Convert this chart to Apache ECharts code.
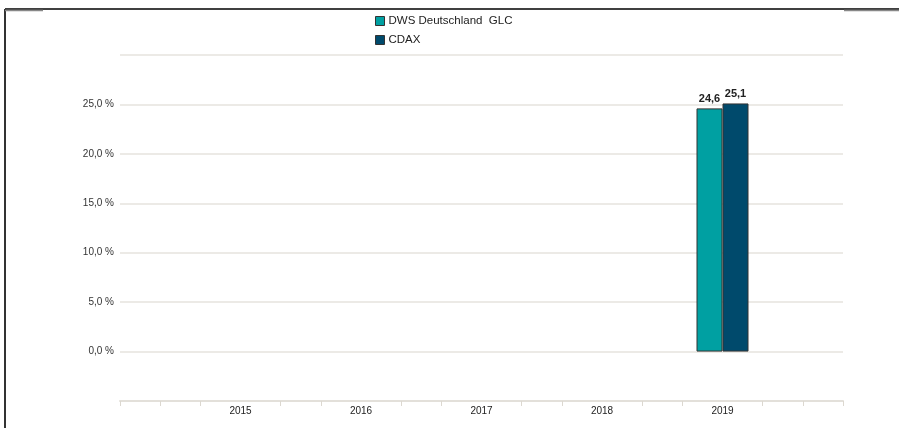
<!DOCTYPE html>
<html>
<head>
<meta charset="utf-8">
<script src="https://cdn.jsdelivr.net/npm/echarts@6/dist/echarts.min.js"></script>
<style>
  html, body { margin: 0; padding: 0; background: #fff; }
  #divChart { width: 899px; height: 428px; }
</style>
</head>
<body>
<div id="divChart"></div>
<script>
// Kategorien (leere Plätze links und rechts wie im Original)
var categories = ['', '2015', '2016', '2017', '2018', '2019', ''];
var seriesNames = ['DWS Deutschland  GLC', 'CDAX'];
var fundValues = [null, null, null, null, null, 24.6, null];
var indexValues = [null, null, null, null, null, 25.1, null];
var yTicks = [0, 5, 10, 15, 20, 25];

function fmtPct(v) {
    return v.toFixed(1).replace('.', ',') + ' %';
}

var myChart = echarts.init(document.getElementById('divChart'));

var option = {
    animation: false,
    color: ['#00a0a2', '#004a6c'],
    textStyle: { fontFamily: 'Liberation Sans, Arial, sans-serif' },
    legend: {
        orient: 'vertical',
        left: 370,
        top: 10,
        itemWidth: 9,
        itemHeight: 9,
        itemGap: 7,
        icon: 'rect',
        textStyle: { fontSize: 11.5, color: '#222', padding: [0, 0, 0, -1] },
        itemStyle: { borderColor: '#333', borderWidth: 1 },
        data: seriesNames
    },
    grid: { left: 120, right: 56, top: 55, bottom: 27 },
    xAxis: [{
        type: 'category',
        data: categories,
        boundaryGap: false,
        axisLine: { onZero: false, lineStyle: { color: '#e3e0da', width: 2 } },
        axisTick: {
            show: true,
            length: 5,
            interval: function (i) { return i === 0 || i === categories.length - 1; },
            lineStyle: { color: '#dcd8d0', width: 1 }
        },
        axisLabel: { color: '#222', fontSize: 10, margin: 5 },
        splitLine: { show: false }
    }, {
        // nur fuer die Zwischenstriche
        type: 'value',
        position: 'bottom',
        min: 0,
        max: 6,
        interval: 1,
        axisLine: { show: false, onZero: false },
        axisTick: { show: false },
        axisLabel: { show: false },
        splitLine: { show: false },
        minorTick: { show: true, splitNumber: 3, length: 5, lineStyle: { color: '#dcd8d0', width: 1 } },
        minorSplitLine: { show: false }
    }],
    yAxis: {
        type: 'value',
        min: -5,
        max: 30,
        interval: 5,
        axisLine: { show: false },
        axisTick: { show: false },
        axisLabel: {
            color: '#333',
            fontSize: 10,
            margin: 6,
            formatter: function (v) {
                return yTicks.indexOf(v) >= 0 ? fmtPct(v) : '';
            }
        },
        splitLine: { lineStyle: { color: '#e6e3de', width: 1.5 } }
    },
    series: [{
        name: seriesNames[0],
        type: 'bar',
        xAxisIndex: 0,
        barWidth: 26,
        barGap: '0%',
        data: fundValues,
        itemStyle: { borderColor: '#333', borderWidth: 1 },
        label: {
            show: true, position: 'top', distance: 4, color: '#222', fontSize: 11, fontWeight: 'bold',
            formatter: function (p) { return p.value.toFixed(1).replace('.', ','); }
        }
    }, {
        name: seriesNames[1],
        type: 'bar',
        xAxisIndex: 0,
        barWidth: 26,
        barGap: '0%',
        data: indexValues,
        itemStyle: { borderColor: '#333', borderWidth: 1 },
        label: {
            show: true, position: 'top', distance: 4, color: '#222', fontSize: 11, fontWeight: 'bold',
            formatter: function (p) { return p.value.toFixed(1).replace('.', ','); }
        }
    }],
    graphic: [
        { type: 'line', shape: { x1: 5, y1: 9, x2: 899, y2: 9 }, style: { stroke: '#000', lineWidth: 1.5 } },
        { type: 'line', shape: { x1: 5, y1: 9, x2: 5, y2: 428 }, style: { stroke: '#333', lineWidth: 2 } },
        { type: 'line', shape: { x1: 5, y1: 10.5, x2: 43, y2: 10.5 }, style: { stroke: '#888', lineWidth: 1.5 } },
        { type: 'line', shape: { x1: 844, y1: 10.5, x2: 899, y2: 10.5 }, style: { stroke: '#888', lineWidth: 1.5 } }
    ]
};
myChart.setOption(option);
</script>
</body>
</html>
